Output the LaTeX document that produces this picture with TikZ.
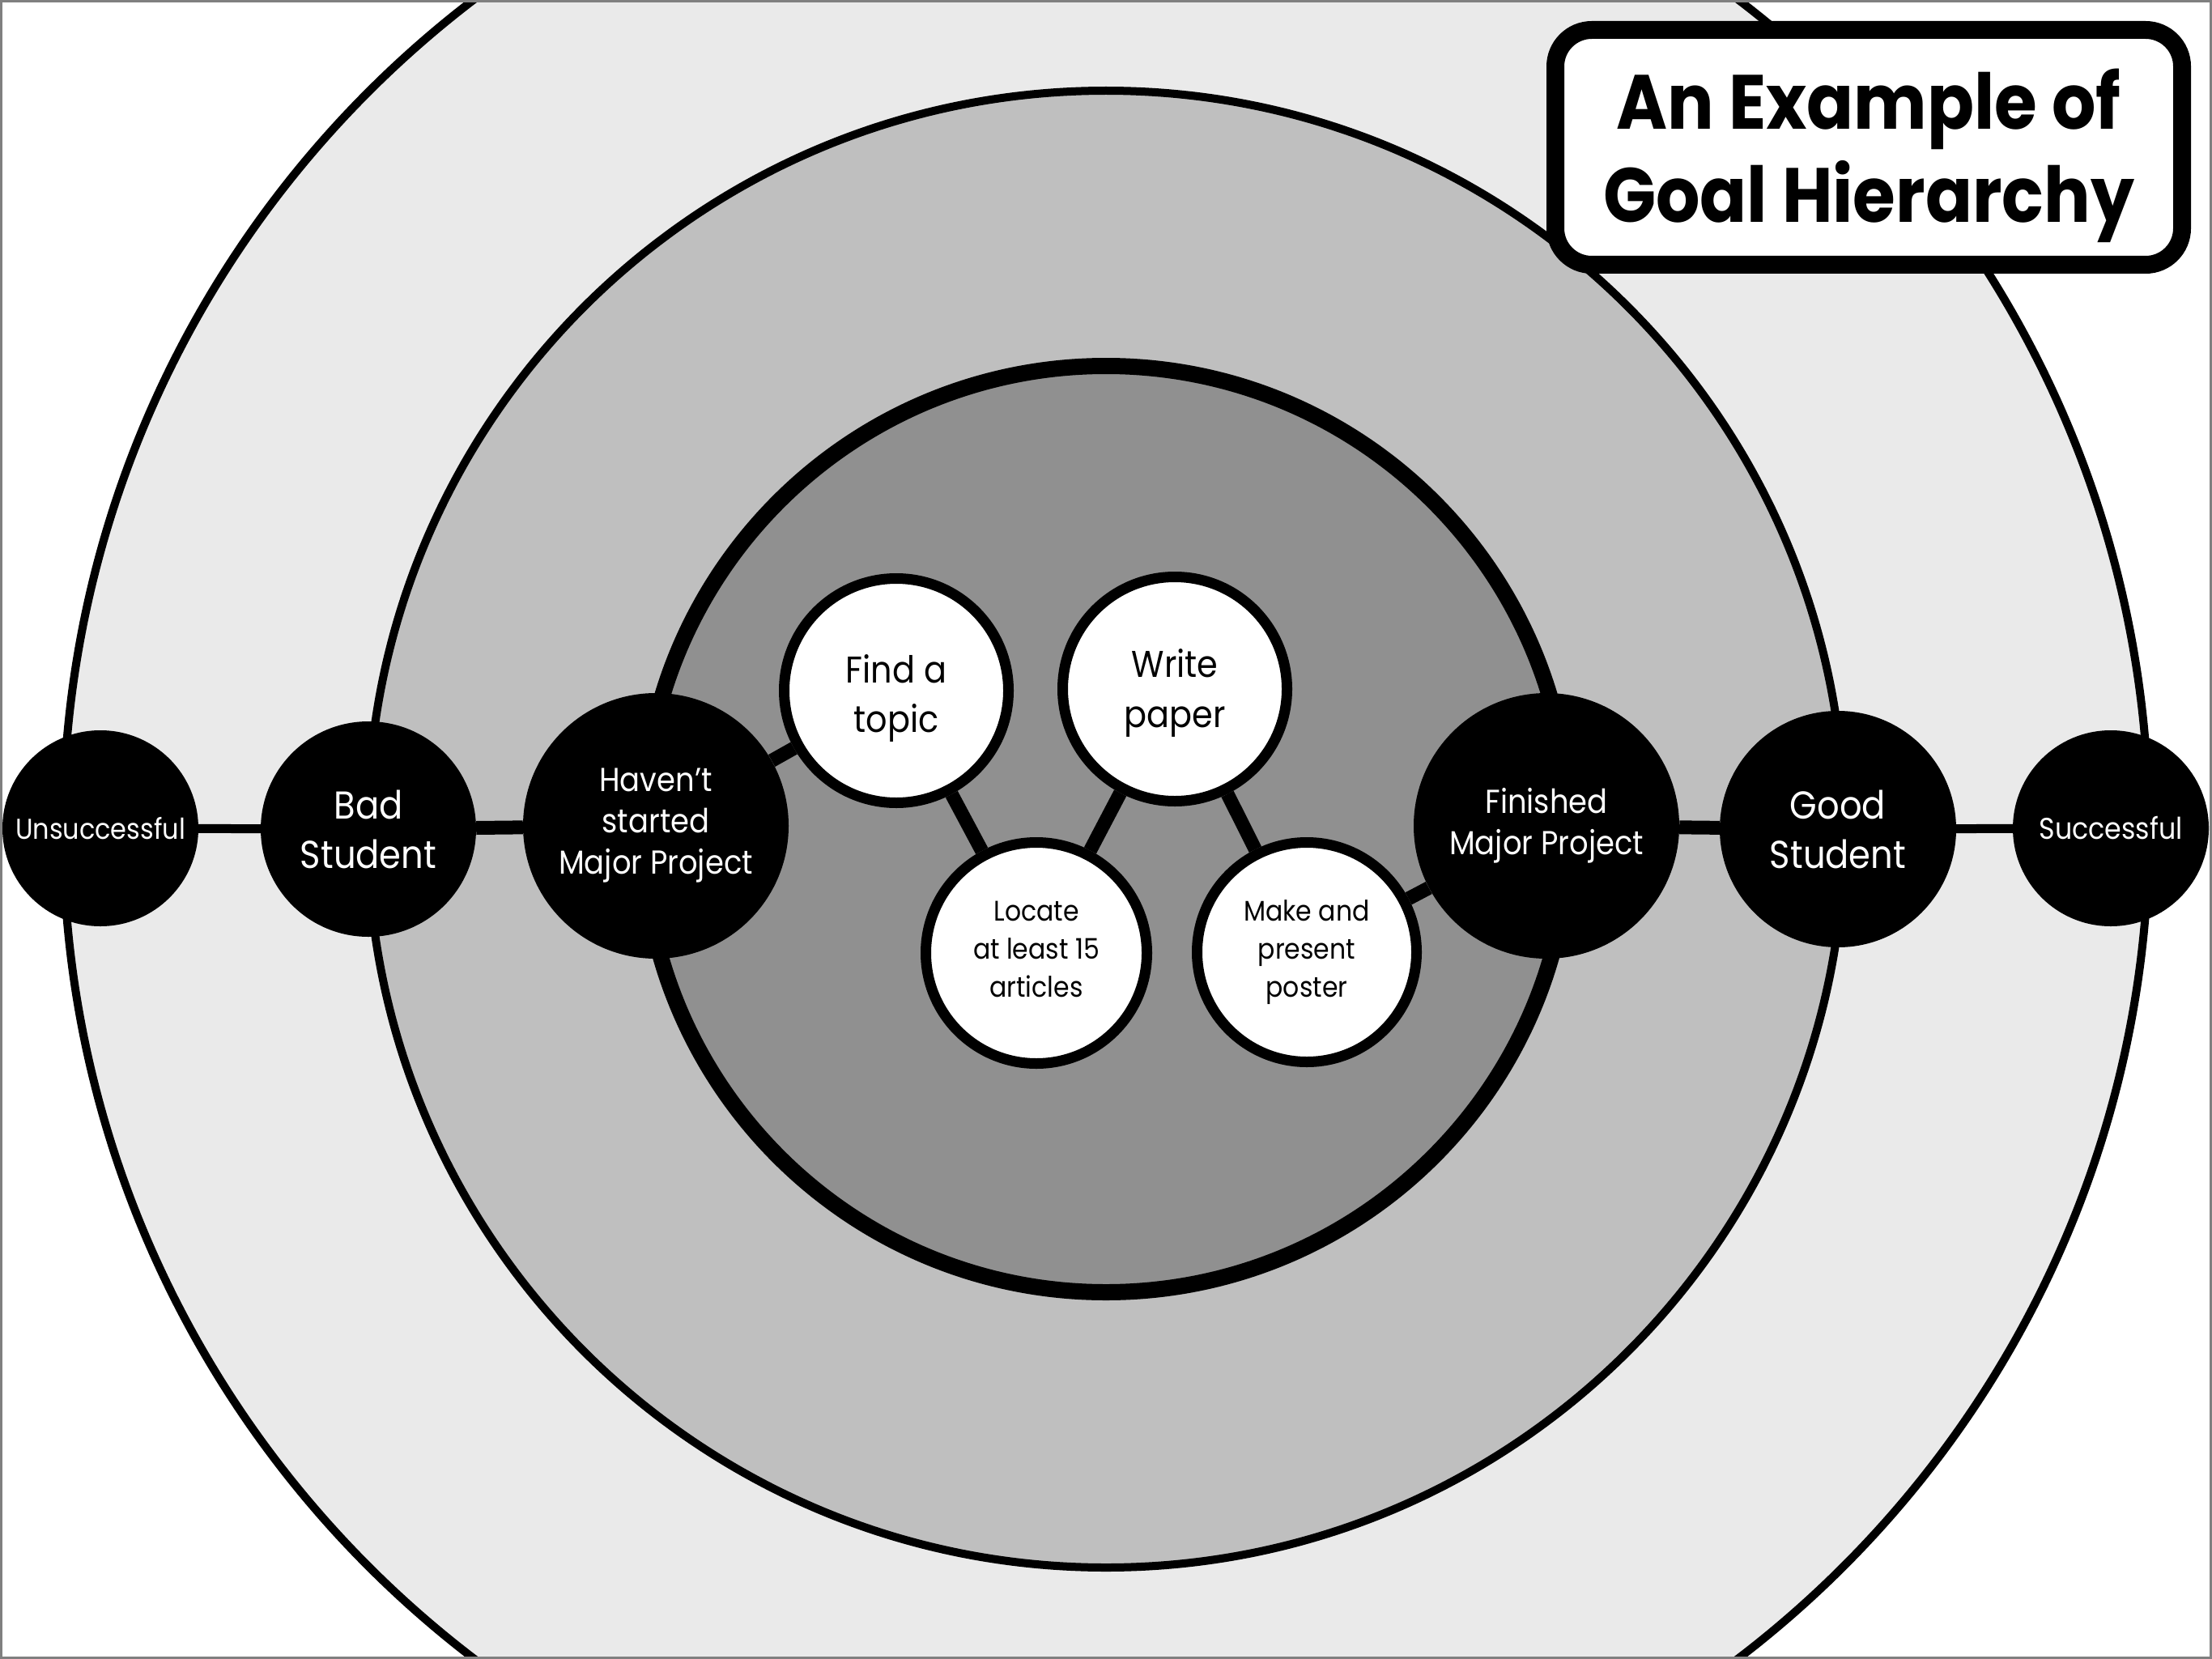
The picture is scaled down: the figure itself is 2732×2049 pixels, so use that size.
\documentclass[tikz,border=0pt]{standalone}
\usepackage{fontspec}
\setmainfont{Poppins}[FakeStretch=0.9]
\definecolor{ringA}{HTML}{EAEAEA}
\definecolor{ringB}{HTML}{BFBFBF}
\definecolor{ringC}{HTML}{909090}
\newcommand{\fsz}[2]{\fontsize{#1pt}{#2pt}\selectfont}
\newcommand{\upstrut}[1]{\rule{0pt}{#1}}
\newcommand{\downstrut}[1]{\rule[-#1]{0pt}{#1}}
\tikzset{
  blacknode/.style={circle, fill=black, text=white, inner sep=0pt, align=center},
  whitenode/.style={circle, fill=white, draw=black, line width=13pt, text=black, inner sep=0pt, align=center},
  thinlink/.style={line width=11pt, draw=black},
  thicklink/.style={line width=17pt, draw=black},
  ringline/.style={draw=black, line width=10pt},
}
\begin{document}
\begin{tikzpicture}[x=1pt,y=-1pt]
\useasboundingbox (0,0) rectangle (2732,2049);
\begin{scope}
\clip (0,0) rectangle (2732,2049);
\fill[white] (0,0) rectangle (2732,2049);
\draw[ringline, fill=ringA] (1366,1024) circle[radius=1288pt];
\draw[ringline, fill=ringB] (1366,1024) circle[radius=912pt];
\draw[draw=black, line width=20pt, fill=ringC] (1366,1024) circle[radius=572pt];
\end{scope}
\draw[draw=gray, line width=3pt] (1.5,1.5) rectangle (2730.5,2047.5);

% nodes
\node[blacknode, minimum size=242pt, font=\fsz{35.5}{45}] (uns) at (124,1023) {Unsuccessful};
\node[blacknode, minimum size=266pt, font=\fsz{48}{61}] (bad) at (455,1024) {Bad\\Student};
\node[blacknode, minimum size=328pt, font=\fsz{41}{51}] (hav) at (810,1020) {Haven’t\\started\\Major Project};
\node[whitenode, minimum size=277pt, font=\fsz{46}{61}] (find) at (1107,853) {\upstrut{54pt}Find a\\topic};
\node[whitenode, minimum size=277pt, font=\fsz{46}{62}] (write) at (1451,851) {\upstrut{44pt}Write\\paper};
\node[whitenode, minimum size=273pt, font=\fsz{35}{47}] (locate) at (1280,1177) {Locate\\at least 15\\articles\downstrut{10pt}};
\node[whitenode, minimum size=271pt, font=\fsz{35}{47}] (make) at (1614,1176) {Make and\\present\\poster};
\node[blacknode, minimum size=328pt, font=\fsz{41}{51}] (fin) at (1910,1020) {Finished\\Major Project};
\node[blacknode, minimum size=292pt, font=\fsz{48}{61}] (good) at (2270,1024) {Good\\Student};
\node[blacknode, minimum size=242pt, font=\fsz{37}{45}] (succ) at (2607,1023) {Successful};

% connectors
\draw[thinlink] (uns) -- (bad);
\draw[thicklink] (bad) -- (hav);
\draw[thicklink] (hav) -- (find);
\draw[thicklink] (find) -- (locate);
\draw[thicklink] (locate) -- (write);
\draw[thicklink] (write) -- (make);
\draw[thicklink] (make) -- (fin);
\draw[thicklink] (fin) -- (good);
\draw[thinlink] (good) -- (succ);

% title
\node[draw=black, line width=22pt, rounded corners=45pt, fill=white, minimum width=774pt, minimum height=290pt, inner sep=0pt, align=center, font=\fsz{95}{115}\bfseries] (title) at (2308,182) {\upstrut{95pt}An Example of\\Goal Hierarchy};
\end{tikzpicture}
\end{document}
